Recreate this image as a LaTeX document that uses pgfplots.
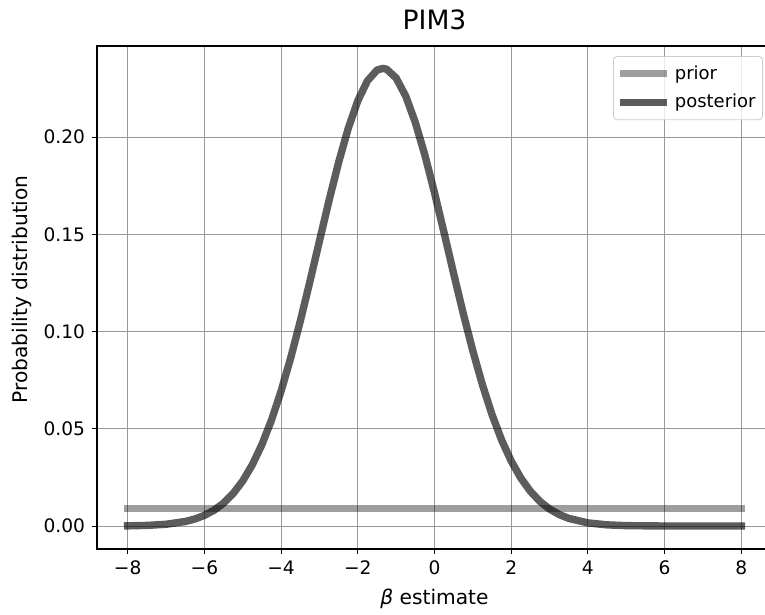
\documentclass[border=0pt]{standalone}
\usepackage{fontspec}
\setmainfont{DejaVu Sans}
\usepackage{pgfplots}
\pgfplotsset{compat=1.18}
\begin{document}
\begin{tikzpicture}
\begin{axis}[
  at={(0,0)}, anchor=south west,
  scale only axis, width=337.5pt, height=251.5pt,
  xmin=-8.8, xmax=8.8, ymin=-0.0118, ymax=0.2468,
  xtick={-8,-6,-4,-2,0,2,4,6,8},
  xticklabels={−8,−6,−4,−2,0,2,4,6,8},
  ytick={0,0.05,0.10,0.15,0.20},
  yticklabels={0.00,0.05,0.10,0.15,0.20},
  tick label style={font=\fontsize{9.3}{11}\selectfont},
  grid=major, major grid style={black!40, line width=0.5pt},
  tick align=outside, tick pos=left, major tick length=2.5pt,
  tick style={black, line width=0.45pt},
  axis line style={line width=0.55pt},
  title={PIM3},
  title style={font=\fontsize{13.3}{15}\selectfont, yshift=-1.5pt},
  xlabel={\textit{β} estimate},
  ylabel={Probability distribution},
  label style={font=\fontsize{10.1}{12}\selectfont},
  ylabel style={yshift=-1pt, xshift=4pt},
  legend cell align=left,
  legend style={at={(rel axis cs:0.9867,0.980)}, anchor=north east,
    draw=black!20, rounded corners=2pt, fill=white, fill opacity=0.8, text opacity=1,
    font=\fontsize{9}{11}\selectfont, inner xsep=1.5pt, inner ysep=2.5pt, row sep=2pt},
  legend image code/.code={\draw[#1, line cap=butt] (0pt,0pt) -- (23.5pt,0pt);},
]
\addplot[black, draw opacity=0.38, line width=3.7pt, line cap=rect] coordinates {(-8,0.009) (8,0.009)};
\addlegendentry{prior}
\addplot[black, draw opacity=0.64, line width=3.7pt, line cap=rect, line join=round] coordinates {
(-8,0.000108) (-7.5,0.000327) (-7,0.000914) (-6.5,0.002335) (-6.25,0.003614)
(-6,0.005476) (-5.75,0.008116) (-5.5,0.011769) (-5.25,0.016699) (-5,0.023191)
(-4.75,0.031510) (-4.5,0.041886) (-4.25,0.054492) (-4,0.069367) (-3.75,0.086406)
(-3.5,0.105308) (-3.25,0.125588) (-3,0.146551) (-2.75,0.167336) (-2.5,0.186951)
(-2.25,0.204380) (-2,0.218629) (-1.75,0.228842) (-1.5,0.234381) (-1.35,0.2353)
(-1.25,0.234891) (-1,0.230340) (-0.75,0.221019) (-0.5,0.207514) (-0.25,0.190649)
(0,0.171385) (0.25,0.150750) (0.5,0.129749) (0.75,0.109274) (1,0.090051)
(1.25,0.072610) (1.5,0.057287) (1.75,0.044235) (2,0.033413) (2.25,0.024705)
(2.5,0.017871) (2.75,0.012644) (3,0.008754) (3.25,0.005933) (3.5,0.003934)
(4,0.001618) (4.5,0.000612) (5,0.000212) (6,0.0000196) (7,0.0000013) (8,0.0)
};
\addlegendentry{posterior}
\end{axis}
\pgfresetboundingbox
\path[use as bounding box] (-48.5pt,-33pt) rectangle (334pt,274.5pt);
\end{tikzpicture}
\end{document}
